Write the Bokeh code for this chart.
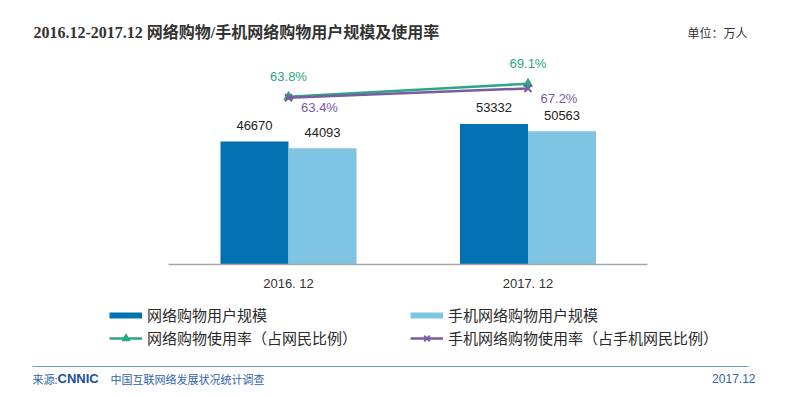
from bokeh.plotting import figure
from bokeh.models import (ColumnDataSource, Range1d, Label, Legend, LegendItem,
                          BoxAnnotation, LinearAxis, FixedTicker)
from bokeh.transform import dodge
from bokeh.embed import file_html
from bokeh.resources import INLINE
from bokeh.core.properties import value

# ---------------- data ----------------
categories = ["2016. 12", "2017. 12"]
online_users = [46670, 53332]          # 网络购物用户规模 (万人)
mobile_users = [44093, 50563]          # 手机网络购物用户规模 (万人)
online_rate = [63.8, 69.1]             # 网络购物使用率 (%)
mobile_rate = [63.4, 67.2]             # 手机网络购物使用率 (%)

title_text = "2016.12-2017.12 网络购物/手机网络购物用户规模及使用率"
unit_text = "单位：万人"
legend_labels = ["网络购物用户规模", "手机网络购物用户规模",
                 "网络购物使用率（占网民比例）", "手机网络购物使用率（占手机网民比例）"]
source_prefix = "来源:"
source_logo = "CNNIC"
source_text = "中国互联网络发展状况统计调查"
date_text = "2017.12"

# ---------------- styles ----------------
DARK = "#0472b2"
LIGHT = "#7fc4e3"
GREEN = "#2aa684"
PURPLE = "#7a5aa3"
FOOT = "#2f63ab"
CJK = "Noto Sans CJK SC"
LAT = "Liberation Sans"

W, H = 800, 396
idx = list(range(len(categories)))
nan = float("nan")

p = figure(width=W, height=H, title=None,
           x_range=Range1d(-1.2025, 2.1378),
           y_range=Range1d(-50076, 100152),
           x_axis_location=None, y_axis_location=None,
           output_backend="svg", toolbar_location=None,
           min_border=0, min_border_left=0, min_border_right=0,
           min_border_top=0, min_border_bottom=0)
p.extra_y_ranges = {"rate": Range1d(-58.56, 103.07)}
p.outline_line_color = None
p.background_fill_color = "white"
p.border_fill_color = "white"
p.xgrid.grid_line_color = None
p.ygrid.grid_line_color = None
p.xgrid.visible = False
p.ygrid.visible = False

src = ColumnDataSource(dict(
    x=idx,
    online=online_users,
    mobile=mobile_users,
    orate=online_rate,
    mrate=mobile_rate,
    online_lbl=[str(v) for v in online_users],
    mobile_lbl=[str(v) for v in mobile_users],
    orate_lbl=["%.1f%%" % v for v in online_rate],
    mrate_lbl=["%.1f%%" % v for v in mobile_rate],
))

bw = 0.284
p.vbar(x=dodge("x", -bw / 2), top="online", width=bw,
       source=src, fill_color=DARK, line_color=None)
p.vbar(x=dodge("x", bw / 2), top="mobile", width=bw,
       source=src, fill_color=LIGHT, line_color=None)

p.text(x=dodge("x", -bw / 2), y="online", text="online_lbl",
       source=src, text_align="center", text_baseline="middle", y_offset=-16,
       text_font=value(LAT), text_font_size="13px", text_color="#222222")
p.text(x=dodge("x", bw / 2), y="mobile", text="mobile_lbl",
       source=src, text_align="center", text_baseline="middle", y_offset=-16,
       text_font=value(LAT), text_font_size="13px", text_color="#222222")

# rate lines
gl = p.line(x="x", y="orate", source=src, y_range_name="rate",
            line_color=GREEN, line_width=2.5)
gs = p.scatter(x="x", y="orate", source=src, y_range_name="rate",
               marker="triangle", size=9, fill_color=GREEN, line_color=GREEN)
pl = p.line(x="x", y="mrate", source=src, y_range_name="rate",
            line_color=PURPLE, line_width=2.5)
ps = p.scatter(x="x", y="mrate", source=src, y_range_name="rate",
               marker="x", size=10, line_color=PURPLE, line_width=2)

p.text(x="x", y="orate", text="orate_lbl", source=src, y_range_name="rate",
       text_align="center", text_baseline="middle", y_offset=-20,
       text_font=value(LAT), text_font_size="13px", text_color=GREEN)
p.text(x="x", y="mrate", text="mrate_lbl", source=src, y_range_name="rate",
       text_align="center", text_baseline="middle", x_offset=31, y_offset=10,
       text_font=value(LAT), text_font_size="13px", text_color=PURPLE)

# category axis drawn at y = 0 inside the canvas
ax = LinearAxis(ticker=FixedTicker(ticks=idx),
                major_label_overrides={i: c for i, c in zip(idx, categories)},
                fixed_location=0, bounds=(-0.5, len(categories) - 0.5))
ax.axis_line_color = "#a6a6a6"
ax.axis_line_width = 1.5
ax.major_tick_line_color = None
ax.minor_tick_line_color = None
ax.major_tick_out = 0
ax.major_tick_in = 0
ax.major_label_standoff = 11
ax.major_label_text_font = LAT
ax.major_label_text_font_size = "13px"
ax.major_label_text_color = "#333333"
p.add_layout(ax, "below")

# legend swatches for the bar series (no data of their own)
d1 = p.line(x=[nan, nan], y=[nan, nan], line_color=DARK, line_width=6)
d2 = p.line(x=[nan, nan], y=[nan, nan], line_color=LIGHT, line_width=6)

def make_legend(items, loc):
    return Legend(items=items, orientation="horizontal", location=loc,
                  glyph_width=33, glyph_height=20, label_height=20,
                  label_standoff=5, label_width=263, spacing=0,
                  padding=0, margin=0, border_line_color=None,
                  background_fill_alpha=0,
                  label_text_font=CJK, label_text_font_size="15px",
                  label_text_color="#2a2a2a")

leg1 = make_legend([LegendItem(label=legend_labels[0], renderers=[d1]),
                    LegendItem(label=legend_labels[1], renderers=[d2])], (109, 71))
leg2 = make_legend([LegendItem(label=legend_labels[2], renderers=[gl, gs]),
                    LegendItem(label=legend_labels[3], renderers=[pl, ps])], (109, 48))
p.add_layout(leg1)
p.add_layout(leg2)

# title and unit
p.add_layout(Label(x=33, y=364, x_units="screen", y_units="screen",
                   text=title_text, text_align="left", text_baseline="middle",
                   text_font="Liberation Serif, " + CJK, text_font_style="bold",
                   text_font_size="16px", text_color="#333333"))
p.add_layout(Label(x=747, y=364, x_units="screen", y_units="screen",
                   text=unit_text, text_align="right", text_baseline="middle",
                   text_font=CJK, text_font_size="12px", text_color="#333333"))

# footer
p.add_layout(BoxAnnotation(left=32, right=748, bottom=29.5, top=30.5,
                           left_units="screen", right_units="screen",
                           bottom_units="screen", top_units="screen",
                           fill_color="#6f9bcc", fill_alpha=1, line_color=None))
p.add_layout(Label(x=32, y=18, x_units="screen", y_units="screen",
                   text=source_prefix, text_align="left", text_baseline="middle",
                   text_font=CJK, text_font_size="11px", text_color=FOOT))
p.add_layout(Label(x=57, y=18, x_units="screen", y_units="screen",
                   text=source_logo, text_align="left", text_baseline="middle",
                   text_font=LAT, text_font_style="bold",
                   text_font_size="13px", text_color="#1b4f9c"))
p.add_layout(Label(x=110, y=18, x_units="screen", y_units="screen",
                   text=source_text, text_align="left", text_baseline="middle",
                   text_font=CJK, text_font_size="11px", text_color=FOOT))
p.add_layout(Label(x=755, y=18, x_units="screen", y_units="screen",
                   text=date_text, text_align="right", text_baseline="middle",
                   text_font=LAT, text_font_size="12px", text_color=FOOT))

open("out.html", "w").write(file_html(p, INLINE))
